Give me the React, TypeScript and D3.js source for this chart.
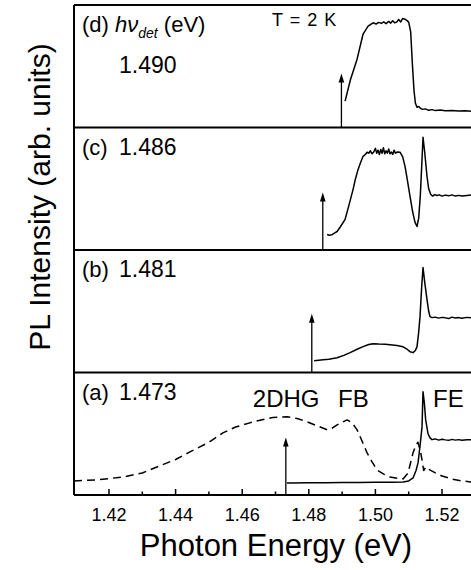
import React from "react";
import * as d3 from "d3";

// panel order top -> bottom
const panels = ["d", "c", "b", "a"];
const detLabels = ["1.490", "1.486", "1.481", "1.473"];
// where the arrows actually sit in the picture (eV) and how high they reach (panel units)
const arrowEnergy = [1.4898, 1.4842, 1.4809, 1.4731];
const arrowTop = [0.44, 0.47, 0.48, 0.47];

const tickValues = [1.42, 1.44, 1.46, 1.48, 1.5, 1.52];
const minorTicks = [1.43, 1.45, 1.47, 1.49, 1.51];

// (d) hv_det = 1.490
const dEnergy = [1.4909, 1.4925, 1.4945, 1.4963, 1.4978, 1.4993, 1.5002, 1.501, 1.5018, 1.5025, 1.5032, 1.504, 1.5046, 1.5052, 1.5058, 1.5064, 1.507, 1.5076, 1.5082, 1.5089, 1.5095, 1.51, 1.5106, 1.5111, 1.5116, 1.512, 1.5125, 1.513, 1.5136, 1.5142, 1.515, 1.516, 1.517, 1.518, 1.5195, 1.521, 1.523, 1.525, 1.527, 1.529];
const dIntensity = [0.215, 0.39, 0.558, 0.763, 0.827, 0.855, 0.845, 0.858, 0.85, 0.862, 0.848, 0.866, 0.852, 0.872, 0.855, 0.86, 0.882, 0.862, 0.89, 0.884, 0.872, 0.86, 0.78, 0.52, 0.3, 0.2, 0.165, 0.172, 0.155, 0.148, 0.152, 0.14, 0.146, 0.138, 0.142, 0.136, 0.138, 0.134, 0.136, 0.133];

// (c) hv_det = 1.486
const cEnergy = [1.4855, 1.4862, 1.487, 1.4878, 1.4885, 1.4895, 1.4909, 1.492, 1.4933, 1.494, 1.4948, 1.4955, 1.4963, 1.497, 1.4975, 1.498, 1.4985, 1.499, 1.4995, 1.5, 1.5004, 1.5008, 1.5012, 1.5016, 1.502, 1.5024, 1.5028, 1.5032, 1.5036, 1.504, 1.5044, 1.5048, 1.5052, 1.5056, 1.506, 1.5066, 1.5074, 1.5082, 1.5089, 1.5096, 1.5104, 1.5112, 1.5119, 1.5125, 1.513, 1.5135, 1.514, 1.5143, 1.5148, 1.5155, 1.516, 1.5166, 1.5172, 1.5178, 1.5185, 1.5192, 1.52, 1.521, 1.522, 1.523, 1.524, 1.525, 1.526, 1.5275, 1.529];
const cIntensity = [0.127, 0.12, 0.125, 0.14, 0.151, 0.19, 0.25, 0.36, 0.495, 0.58, 0.658, 0.71, 0.765, 0.78, 0.798, 0.79, 0.81, 0.785, 0.8, 0.83, 0.79, 0.815, 0.78, 0.82, 0.79, 0.835, 0.785, 0.81, 0.79, 0.825, 0.785, 0.8, 0.78, 0.815, 0.79, 0.8, 0.798, 0.76, 0.683, 0.57, 0.438, 0.31, 0.225, 0.192, 0.26, 0.45, 0.74, 0.92, 0.8, 0.6, 0.5, 0.455, 0.44, 0.452, 0.445, 0.45, 0.44, 0.448, 0.442, 0.45, 0.44, 0.446, 0.44, 0.445, 0.45];

// (b) hv_det = 1.481
const bEnergy = [1.4816, 1.483, 1.4843, 1.486, 1.4885, 1.4905, 1.4924, 1.4945, 1.4963, 1.498, 1.4993, 1.501, 1.503, 1.5044, 1.5065, 1.5083, 1.5095, 1.5104, 1.5113, 1.512, 1.5125, 1.513, 1.5134, 1.5139, 1.5143, 1.5148, 1.5155, 1.516, 1.5164, 1.517, 1.518, 1.519, 1.52, 1.521, 1.522, 1.523, 1.524, 1.525, 1.526, 1.5275, 1.529];
const bIntensity = [0.096, 0.1, 0.104, 0.108, 0.121, 0.14, 0.162, 0.19, 0.211, 0.228, 0.235, 0.232, 0.23, 0.227, 0.22, 0.21, 0.19, 0.17, 0.162, 0.18, 0.211, 0.33, 0.456, 0.7, 0.857, 0.74, 0.595, 0.5, 0.456, 0.448, 0.452, 0.444, 0.45, 0.446, 0.44, 0.452, 0.445, 0.448, 0.442, 0.45, 0.446];

// (a) hv_det = 1.473, solid = PLE, dashed = PL
const aEnergy = [1.4734, 1.475, 1.48, 1.485, 1.49, 1.495, 1.5, 1.505, 1.5083, 1.51, 1.5113, 1.5122, 1.5128, 1.5134, 1.514, 1.5143, 1.5147, 1.5151, 1.5158, 1.5164, 1.517, 1.518, 1.519, 1.52, 1.521, 1.522, 1.523, 1.524, 1.525, 1.526, 1.5275, 1.529];
const aIntensity = [0.098, 0.098, 0.1, 0.101, 0.102, 0.103, 0.104, 0.105, 0.106, 0.115, 0.139, 0.2, 0.262, 0.4, 0.556, 0.843, 0.75, 0.613, 0.5, 0.466, 0.452, 0.458, 0.448, 0.455, 0.45, 0.446, 0.454, 0.448, 0.452, 0.447, 0.451, 0.45];

const plEnergy = [1.4095, 1.417, 1.4242, 1.43, 1.4344, 1.44, 1.4443, 1.45, 1.4542, 1.458, 1.4623, 1.466, 1.4692, 1.4735, 1.4765, 1.4795, 1.4825, 1.4855, 1.487, 1.4885, 1.4915, 1.493, 1.4945, 1.496, 1.4975, 1.499, 1.5005, 1.5025, 1.5044, 1.5065, 1.5083, 1.5098, 1.5113, 1.5122, 1.5128, 1.5136, 1.5145, 1.5152, 1.516, 1.518, 1.52, 1.523, 1.526, 1.529];
const plIntensity = [0.115, 0.125, 0.147, 0.18, 0.229, 0.29, 0.352, 0.43, 0.507, 0.555, 0.589, 0.615, 0.632, 0.638, 0.625, 0.597, 0.565, 0.532, 0.545, 0.573, 0.613, 0.59, 0.532, 0.44, 0.344, 0.27, 0.204, 0.17, 0.147, 0.136, 0.131, 0.18, 0.344, 0.41, 0.43, 0.35, 0.2, 0.23, 0.21, 0.18, 0.155, 0.13, 0.115, 0.105];

const peakLabels = ["2DHG", "FB", "FE"];
const peakLabelEnergy = [1.4632, 1.4888, 1.5173];

const font = "'Liberation Sans', Arial, Helvetica, sans-serif";

class App extends React.Component {
    constructor(props) {
        super(props);
        this.chartRef = React.createRef();
        this.createChart = this.createChart.bind(this);
    }

    componentDidMount() {
        this.createChart();
    }

    createChart() {
        const svg = d3.select(this.chartRef.current);
        svg.selectAll("*").remove();

        const left = 74;
        const right = 500;
        const top = 5;
        const bottom = 495;

        const x = d3.scaleLinear().domain([1.42, 1.52]).range([109, 442]);
        const band = d3.scaleBand().domain(panels).range([top, bottom]);
        const bw = band.bandwidth();
        const yFor = (p) => d3.scaleLinear().domain([0, 1]).range([band(p) + bw, band(p)]);

        const series = {
            d: [{ e: dEnergy, v: dIntensity, dash: null }],
            c: [{ e: cEnergy, v: cIntensity, dash: null }],
            b: [{ e: bEnergy, v: bIntensity, dash: null }],
            a: [
                { e: plEnergy, v: plIntensity, dash: "8,5" },
                { e: aEnergy, v: aIntensity, dash: null }
            ]
        };

        panels.forEach((p, i) => {
            const y = yFor(p);
            const g = svg.append("g");

            series[p].forEach((s) => {
                const line = d3
                    .line()
                    .x((d) => x(d[0]))
                    .y((d) => y(d[1]));
                g.append("path")
                    .attr("d", line(d3.zip(s.e, s.v)))
                    .attr("fill", "none")
                    .attr("stroke", "#000")
                    .attr("stroke-width", 1.5)
                    .attr("stroke-dasharray", s.dash)
                    .attr("stroke-linejoin", "round");
            });

            // arrow at detection energy
            const ax = x(arrowEnergy[i]);
            const tip = y(arrowTop[i]);
            g.append("line")
                .attr("x1", ax)
                .attr("x2", ax)
                .attr("y1", y(0))
                .attr("y2", tip + 6)
                .attr("stroke", "#000")
                .attr("stroke-width", 1.3);
            g.append("path")
                .attr("d", `M${ax},${tip} L${ax - 2.8},${tip + 9} L${ax + 2.8},${tip + 9} Z`)
                .attr("fill", "#000");

            // panel label
            const lbl = g
                .append("text")
                .attr("x", left + 8)
                .attr("y", band(p) + 27)
                .attr("font-family", font)
                .attr("font-size", 22)
                .attr("fill", "#000");
            if (p === "d") {
                lbl.append("tspan").text("(d) ");
                lbl.append("tspan").attr("font-style", "italic").text("h\u03bd");
                lbl.append("tspan")
                    .attr("font-style", "italic")
                    .attr("font-size", 14)
                    .attr("dy", 6)
                    .text("det");
                lbl.append("tspan").attr("dy", -6).text(" (eV)");
                g.append("text")
                    .attr("x", 119)
                    .attr("y", band(p) + 68)
                    .attr("font-family", font)
                    .attr("font-size", 23)
                    .text(detLabels[i]);
                g.append("text")
                    .attr("x", 272)
                    .attr("y", band(p) + 21)
                    .attr("font-family", font)
                    .attr("font-size", 18)
                    .attr("word-spacing", 2)
                    .attr("fill", "#000")
                    .text("T = 2 K");
            } else {
                lbl.text(`(${p})`);
                g.append("text")
                    .attr("x", 119)
                    .attr("y", band(p) + 27)
                    .attr("font-family", font)
                    .attr("font-size", 23)
                    .text(detLabels[i]);
            }
        });

        // peak labels in (a)
        const ya = yFor("a");
        peakLabels.forEach((t, i) => {
            svg.append("text")
                .attr("x", x(peakLabelEnergy[i]))
                .attr("y", ya(0.718))
                .attr("font-family", font)
                .attr("font-size", 24)
                .text(t);
        });

        // frame + panel separators
        svg.append("line")
            .attr("x1", left).attr("x2", left)
            .attr("y1", top).attr("y2", bottom)
            .attr("stroke", "#000").attr("stroke-width", 2);
        panels.forEach((p) => {
            svg.append("line")
                .attr("x1", left).attr("x2", right)
                .attr("y1", band(p)).attr("y2", band(p))
                .attr("stroke", "#000").attr("stroke-width", 2);
        });

        // bottom axis, ticks pointing inward
        const axis = svg.append("g").attr("transform", `translate(0,${bottom})`);
        axis.append("line")
            .attr("x1", left).attr("x2", right)
            .attr("stroke", "#000").attr("stroke-width", 2);
        axis.selectAll(".major")
            .data(tickValues)
            .enter()
            .append("line")
            .attr("x1", (d) => x(d)).attr("x2", (d) => x(d))
            .attr("y1", 0).attr("y2", -6)
            .attr("stroke", "#000").attr("stroke-width", 1.5);
        axis.selectAll(".minor")
            .data(minorTicks)
            .enter()
            .append("line")
            .attr("x1", (d) => x(d)).attr("x2", (d) => x(d))
            .attr("y1", 0).attr("y2", -3.5)
            .attr("stroke", "#000").attr("stroke-width", 1.5);
        axis.selectAll(".lbl")
            .data(tickValues)
            .enter()
            .append("text")
            .attr("x", (d) => x(d))
            .attr("y", 26)
            .attr("text-anchor", "middle")
            .attr("font-family", font)
            .attr("font-size", 18)
            .text(d3.format(".2f"));

        svg.append("text")
            .attr("x", 276)
            .attr("y", 556)
            .attr("text-anchor", "middle")
            .attr("font-family", font)
            .attr("font-size", 31)
            .text("Photon Energy (eV)");

        svg.append("text")
            .attr("transform", "translate(50,197) rotate(-90)")
            .attr("text-anchor", "middle")
            .attr("font-family", font)
            .attr("font-size", 30)
            .text("PL Intensity (arb. units)");
    }

    render() {
        return (
            <svg
                ref={this.chartRef}
                width={471}
                height={570}
                style={{ position: "absolute", left: 0, top: 0, background: "#fff" }}
            />
        );
    }
}

export default App;
